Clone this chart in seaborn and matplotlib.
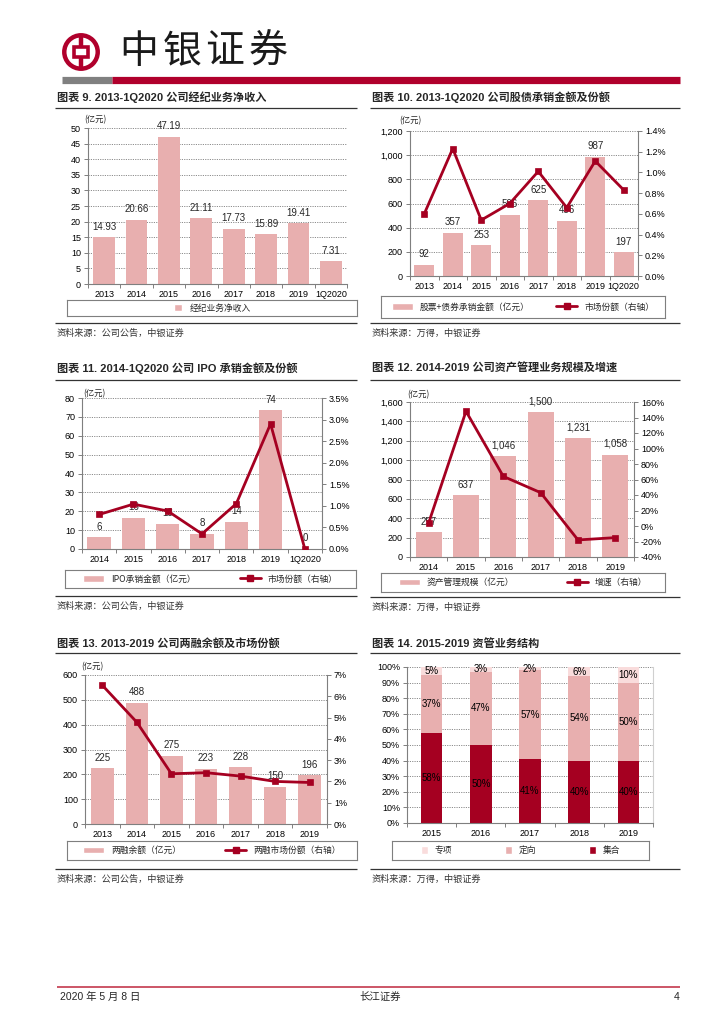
import numpy as np
import matplotlib
matplotlib.use('Agg')
import matplotlib.pyplot as plt
import seaborn as sns
from matplotlib.patches import Patch, Circle, Rectangle
from matplotlib.lines import Line2D

sns.set_style('ticks')
plt.rcParams['font.family'] = ['Liberation Sans', 'Noto Sans CJK SC', 'DejaVu Sans']
plt.rcParams['axes.unicode_minus'] = False

# ---------------- data ----------------
c9_cats = ['2013', '2014', '2015', '2016', '2017', '2018', '2019', '1Q2020']
c9_income = [14.93, 20.66, 47.19, 21.11, 17.73, 15.89, 19.41, 7.31]
c9_labels = ['14.93', '20.66', '47.19', '21.11', '17.73', '15.89', '19.41', '7.31']
c9_yticks = [0, 5, 10, 15, 20, 25, 30, 35, 40, 45, 50]
c9_ylabels = ['0', '5', '10', '15', '20', '25', '30', '35', '40', '45', '50']

c10_cats = ['2013', '2014', '2015', '2016', '2017', '2018', '2019', '1Q2020']
c10_amount = [92, 357, 253, 506, 625, 456, 987, 197]
c10_labels = ['92', '357', '253', '506', '625', '456', '987', '197']
c10_share = [0.60, 1.23, 0.54, 0.70, 1.01, 0.66, 1.11, 0.83]
c10_yticks = [0, 200, 400, 600, 800, 1000, 1200]
c10_ylabels = ['0', '200', '400', '600', '800', '1,000', '1,200']
c10_rticks = [0.0, 0.2, 0.4, 0.6, 0.8, 1.0, 1.2, 1.4]
c10_rlabels = ['0.0%', '0.2%', '0.4%', '0.6%', '0.8%', '1.0%', '1.2%', '1.4%']

c11_cats = ['2014', '2015', '2016', '2017', '2018', '2019', '1Q2020']
c11_amount = [6.3, 16.4, 13.3, 8.1, 14.5, 73.5, 0.0]
c11_labels = ['6', '16', '13', '8', '14', '74', '0']
c11_share = [0.80, 1.04, 0.88, 0.35, 1.05, 2.90, 0.00]
c11_yticks = [0, 10, 20, 30, 40, 50, 60, 70, 80]
c11_ylabels = ['0', '10', '20', '30', '40', '50', '60', '70', '80']
c11_rticks = [0.0, 0.5, 1.0, 1.5, 2.0, 2.5, 3.0, 3.5]
c11_rlabels = ['0.0%', '0.5%', '1.0%', '1.5%', '2.0%', '2.5%', '3.0%', '3.5%']

c12_cats = ['2014', '2015', '2016', '2017', '2018', '2019']
c12_scale = [257, 637, 1046, 1500, 1231, 1058]
c12_labels = ['257', '637', '1,046', '1,500', '1,231', '1,058']
c12_growth = [4, 148, 64, 43, -18, -15]
c12_yticks = [0, 200, 400, 600, 800, 1000, 1200, 1400, 1600]
c12_ylabels = ['0', '200', '400', '600', '800', '1,000', '1,200', '1,400', '1,600']
c12_rticks = [-40, -20, 0, 20, 40, 60, 80, 100, 120, 140, 160]
c12_rlabels = ['-40%', '-20%', '0%', '20%', '40%', '60%', '80%', '100%', '120%', '140%', '160%']

c13_cats = ['2013', '2014', '2015', '2016', '2017', '2018', '2019']
c13_balance = [225, 488, 275, 223, 228, 150, 196]
c13_labels = ['225', '488', '275', '223', '228', '150', '196']
c13_share = [6.52, 4.78, 2.36, 2.41, 2.25, 2.00, 1.95]
c13_yticks = [0, 100, 200, 300, 400, 500, 600]
c13_ylabels = ['0', '100', '200', '300', '400', '500', '600']
c13_rticks = [0, 1, 2, 3, 4, 5, 6, 7]
c13_rlabels = ['0%', '1%', '2%', '3%', '4%', '5%', '6%', '7%']

c14_cats = ['2015', '2016', '2017', '2018', '2019']
c14_jihe = [58, 50, 41, 40, 40]
c14_dingxiang = [37, 47, 57, 54, 50]
c14_zhuanxiang = [5, 3, 2, 6, 10]
c14_yticks = [0, 10, 20, 30, 40, 50, 60, 70, 80, 90, 100]
c14_ylabels = ['0%', '10%', '20%', '30%', '40%', '50%', '60%', '70%', '80%', '90%', '100%']

# ---------------- styles ----------------
PINK = '#E8AFAF'
RED = '#A50021'
LIGHT = '#F9DCDC'
GRID = '#8C8C8C'
SPINE = '#7F7F7F'
HEAD_RED = '#B0002C'
NUM = ['Liberation Sans Narrow', 'Liberation Sans', 'Noto Sans CJK SC']
CJK = ['Noto Sans CJK SC', 'DejaVu Sans']
TITLE = ['Liberation Sans', 'Noto Sans CJK SC']

W, H = 725, 1024
fig = plt.figure(figsize=(W / 100, H / 100), dpi=100)


def px_axes(l, t, r, b):
    return fig.add_axes([l / W, 1 - b / H, (r - l) / W, (b - t) / H])


def ftext(x, y, s, **kw):
    fig.text(x / W, 1 - y / H, s, **kw)


def hline(x0, x1, y, color, lw):
    fig.add_artist(Line2D([x0 / W, x1 / W], [1 - y / H, 1 - y / H], color=color,
                          lw=lw, transform=fig.transFigure, solid_capstyle='butt'))


def style_left(ax, yticks, ylabels):
    ax.set_ylim(yticks[0], yticks[-1])
    ax.set_yticks(yticks)
    ax.set_yticklabels(ylabels, fontfamily=NUM, fontsize=6.5)
    ax.yaxis.grid(True, color=GRID, ls=(0, (1.2, 1.2)), lw=0.7)
    ax.set_axisbelow(True)
    for s in ['top', 'right']:
        ax.spines[s].set_visible(False)
    for s in ['left', 'bottom']:
        ax.spines[s].set_color(SPINE)
        ax.spines[s].set_linewidth(0.8)
    ax.tick_params(axis='y', left=True, length=3, width=0.7, color=SPINE, pad=2, labelcolor='black')
    ax.set_ylabel('')


def style_x(ax, cats):
    n = len(cats)
    ax.set_xlim(-0.5, n - 0.5)
    ax.set_xticks(range(n))
    ax.set_xticklabels(cats, fontfamily=NUM, fontsize=6.5)
    ax.set_xticks(np.arange(-0.5, n, 1), minor=True)
    ax.tick_params(axis='x', which='major', length=0, pad=4, labelcolor='black')
    ax.tick_params(axis='x', which='minor', bottom=True, length=3, width=0.7, color=SPINE)
    ax.set_xlabel('')


def style_right(ax2, rticks, rlabels):
    ax2.set_ylim(rticks[0], rticks[-1])
    ax2.set_yticks(rticks)
    ax2.set_yticklabels(rlabels, fontfamily=NUM, fontsize=6.5)
    for s in ['top', 'left', 'bottom']:
        ax2.spines[s].set_visible(False)
    ax2.spines['right'].set_color(SPINE)
    ax2.spines['right'].set_linewidth(0.8)
    ax2.tick_params(axis='y', right=True, length=3, width=0.7, color=SPINE, pad=2, labelcolor='black')
    ax2.set_ylabel('')
    ax2.set_xlabel('')


def legend_box(l, t, r, b, handles, labels, colsp, hl=2.4, hh=0.8):
    lax = px_axes(l, t, r, b)
    lax.set_xticks([])
    lax.set_yticks([])
    lax.set_facecolor('none')
    for s in lax.spines.values():
        s.set_visible(True)
        s.set_color(SPINE)
        s.set_linewidth(0.8)
    lax.legend(handles, labels, loc='center', ncol=len(handles), frameon=False,
               columnspacing=colsp, handlelength=hl, handleheight=hh, handletextpad=0.8,
               prop={'family': CJK, 'size': 6.3})


def header_block(x0, x1, ty, title, uy, sy, source):
    ftext(x0 + 2, ty, title, fontfamily=TITLE, fontweight='bold', fontsize=8, va='center', ha='left')
    hline(x0, x1, uy, '#333333', 0.9)
    hline(x0, x1, sy, '#333333', 0.9)
    ftext(x0 + 2, sy + 10, source, fontfamily=CJK, fontsize=6.6, va='center', ha='left', color='#333333')


def bar_line(box, cats, bars, blabels, yticks, ylabels, width, line=None, rticks=None, rlabels=None):
    ax = px_axes(*box)
    sns.barplot(x=cats, y=bars, color=PINK, saturation=1, width=width, ax=ax, linewidth=0)
    ax.bar_label(ax.containers[0], labels=blabels, padding=4, fontsize=7, fontfamily=NUM)
    style_left(ax, yticks, ylabels)
    ax2 = None
    if line is not None:
        ax2 = ax.twinx()
        sns.lineplot(x=np.arange(len(cats)), y=line, ax=ax2, color=RED, lw=2,
                     marker='s', markersize=5, markeredgecolor=RED, markeredgewidth=0.5)
        style_right(ax2, rticks, rlabels)
    style_x(ax, cats)
    return ax, ax2


LINE_H = Line2D([], [], color=RED, lw=2, marker='s', markersize=5)

# ---------------- page header ----------------
lg = px_axes(62, 33, 100, 71)
lg.set_xlim(0, 1)
lg.set_ylim(0, 1)
lg.set_aspect('equal')
lg.axis('off')
lg.add_patch(Circle((0.5, 0.5), 0.44, fill=False, ec=HEAD_RED, lw=3.2))
lg.add_patch(Rectangle((0.31, 0.36), 0.38, 0.28, fill=False, ec=HEAD_RED, lw=2.6))
lg.plot([0.5, 0.5], [0.64, 0.95], color=HEAD_RED, lw=3.2, solid_capstyle='butt')
lg.plot([0.5, 0.5], [0.05, 0.36], color=HEAD_RED, lw=3.2, solid_capstyle='butt')
for cx, ch in zip([139, 182, 225, 268], ['中', '银', '证', '券']):
    ftext(cx, 52, ch, fontfamily=CJK, fontsize=28, fontweight='light', ha='center', va='center', color='#1a1a1a')
hline(62, 112, 79.5, '#808080', 5.2)
hline(112, 680, 79.5, HEAD_RED, 5.2)

# ---------------- chart 9 ----------------
header_block(55, 357, 97, '图表 9. 2013-1Q2020 公司经纪业务净收入', 107.5, 323, '资料来源：公司公告，中银证券')
bar_line((88, 128, 347, 284), c9_cats, c9_income, c9_labels, c9_yticks, c9_ylabels, 0.67)
ftext(95, 120, '(亿元)', fontfamily=CJK, fontsize=6, ha='center', va='center')
legend_box(67, 300, 357, 316, [Patch(facecolor=PINK)], ['经纪业务净收入'], 2, hl=1.0, hh=0.9)

# ---------------- chart 10 ----------------
header_block(370, 680, 97, '图表 10. 2013-1Q2020 公司股债承销金额及份额', 107.5, 323, '资料来源：万得，中银证券')
bar_line((410, 131, 638, 276), c10_cats, c10_amount, c10_labels, c10_yticks, c10_ylabels, 0.7,
         c10_share, c10_rticks, c10_rlabels)
ftext(410, 121, '(亿元)', fontfamily=CJK, fontsize=6, ha='center', va='center')
legend_box(381, 296, 665, 318, [Patch(facecolor=PINK), LINE_H],
           ['股票+债券承销金额（亿元）', '市场份额（右轴）'], 3)

# ---------------- chart 11 ----------------
header_block(55, 357, 368, '图表 11. 2014-1Q2020 公司 IPO 承销金额及份额', 380, 596, '资料来源：公司公告，中银证券')
bar_line((82, 398, 322, 549), c11_cats, c11_amount, c11_labels, c11_yticks, c11_ylabels, 0.68,
         c11_share, c11_rticks, c11_rlabels)
ftext(94, 394, '(亿元)', fontfamily=CJK, fontsize=6, ha='center', va='center')
legend_box(65, 570, 356, 588, [Patch(facecolor=PINK), LINE_H],
           ['IPO承销金额（亿元）', '市场份额（右轴）'], 5)

# ---------------- chart 12 ----------------
header_block(370, 680, 368, '图表 12. 2014-2019 公司资产管理业务规模及增速', 380, 597, '资料来源：万得，中银证券')
bar_line((410, 402, 634, 557), c12_cats, c12_scale, c12_labels, c12_yticks, c12_ylabels, 0.7,
         c12_growth, c12_rticks, c12_rlabels)
ftext(418, 395, '(亿元)', fontfamily=CJK, fontsize=6, ha='center', va='center')
legend_box(381, 573, 665, 592, [Patch(facecolor=PINK), LINE_H],
           ['资产管理规模（亿元）', '增速（右轴）'], 6)

# ---------------- chart 13 ----------------
header_block(55, 357, 643, '图表 13. 2013-2019 公司两融余额及市场份额', 653, 869, '资料来源：公司公告，中银证券')
bar_line((85, 675, 327, 824), c13_cats, c13_balance, c13_labels, c13_yticks, c13_ylabels, 0.65,
         c13_share, c13_rticks, c13_rlabels)
ftext(92, 667, '(亿元)', fontfamily=CJK, fontsize=6, ha='center', va='center')
legend_box(67, 841, 357, 860, [Patch(facecolor=PINK), LINE_H],
           ['两融余额（亿元）', '两融市场份额（右轴）'], 5)

# ---------------- chart 14 ----------------
header_block(370, 680, 643, '图表 14. 2015-2019 资管业务结构', 653, 869, '资料来源：万得，中银证券')
ax14 = px_axes(407, 667, 653, 823)
tot_all = [a + b + c for a, b, c in zip(c14_jihe, c14_dingxiang, c14_zhuanxiang)]
tot_two = [a + b for a, b in zip(c14_jihe, c14_dingxiang)]
sns.barplot(x=c14_cats, y=tot_all, color=LIGHT, saturation=1, width=0.44, ax=ax14, linewidth=0)
sns.barplot(x=c14_cats, y=tot_two, color=PINK, saturation=1, width=0.44, ax=ax14, linewidth=0)
sns.barplot(x=c14_cats, y=c14_jihe, color=RED, saturation=1, width=0.44, ax=ax14, linewidth=0)
for i in range(len(c14_cats)):
    j, d, z = c14_jihe[i], c14_dingxiang[i], c14_zhuanxiang[i]
    for yv, v in [(j / 2, j), (j + d / 2, d), (j + d + z / 2, z)]:
        ax14.text(i, yv, f'{v}%', ha='center', va='center', fontsize=7, fontfamily=NUM, color='black')
style_left(ax14, c14_yticks, c14_ylabels)
ax14.spines['right'].set_visible(True)
ax14.spines['right'].set_color('#D0D0D0')
style_x(ax14, c14_cats)
legend_box(392, 841, 649, 860,
           [Patch(facecolor=LIGHT), Patch(facecolor=PINK), Patch(facecolor=RED)],
           ['专项', '定向', '集合'], 6, hl=0.8, hh=0.9)

# ---------------- footer ----------------
hline(57, 680, 987, '#C8485A', 1.3)
ftext(60, 997, '2020 年 5 月 8 日', fontfamily=NUM, fontsize=7.5, ha='left', va='center')
ftext(380, 997, '长江证券', fontfamily=CJK, fontsize=7.5, ha='center', va='center')
ftext(680, 997, '4', fontfamily=NUM, fontsize=7.5, ha='right', va='center')

fig.savefig('out.png', dpi=100)
